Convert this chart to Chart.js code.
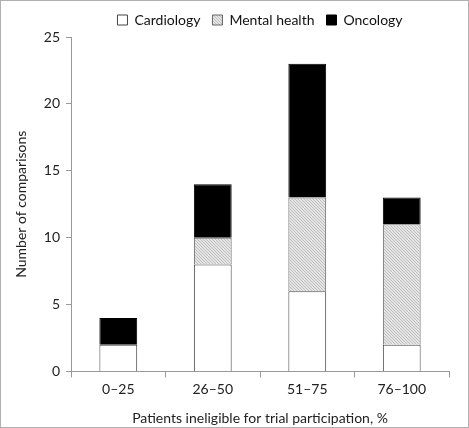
<!DOCTYPE html>
<html>
<head>
<meta charset="utf-8">
<script src="https://cdn.jsdelivr.net/npm/chart.js@4"></script>
<style>
  html, body { margin: 0; padding: 0; background: #fff; }
  #wrap { position: relative; width: 469px; height: 428px; box-sizing: border-box; border: 1px solid #b0b0b0; }
</style>
</head>
<body>
<div id="wrap"><canvas id="chart"></canvas></div>
<script>
// categories and values
const categories = ["0–25", "26–50", "51–75", "76–100"];
const cardiology = [2, 8, 6, 2];
const mentalHealth = [0, 2, 7, 9];
const oncology = [2, 4, 10, 2];
const yTicks = [0, 5, 10, 15, 20, 25];

// fine hatched grey fill for "Mental health"
function makeHatch() {
    const c = document.createElement("canvas");
    c.width = 3; c.height = 3;
    const g = c.getContext("2d");
    g.fillStyle = "#e4e4e4";
    g.fillRect(0, 0, 3, 3);
    g.fillStyle = "#c0c0c0";
    for (let i = 0; i < 3; i++) g.fillRect(i, i, 1, 1);
    return g.createPattern(c, "repeat");
}

const font = { family: "Lato, 'Open Sans', sans-serif", size: 14 };
Chart.defaults.color = "#222";

const ctx = document.getElementById("chart").getContext("2d");
new Chart(ctx, {
    type: "bar",
    data: {
        labels: categories,
        datasets: [
            { label: "Cardiology", data: cardiology, backgroundColor: "#ffffff", borderColor: "#444", borderWidth: 1 },
            { label: "Mental health", data: mentalHealth, backgroundColor: makeHatch(), borderColor: "#666", borderWidth: 1 },
            { label: "Oncology", data: oncology, backgroundColor: "#000000", borderColor: "#000", borderWidth: 1 }
        ]
    },
    options: {
        responsive: true,
        maintainAspectRatio: false,
        animation: false,
        layout: { padding: { top: 0, right: 19, left: 8, bottom: 0 } },
        datasets: { bar: { categoryPercentage: 1, barPercentage: 0.4 } },
        plugins: {
            legend: {
                position: "top",
                fullSize: false,
                labels: {
                    font: font,
                    boxWidth: 10,
                    boxHeight: 10,
                    padding: 12,
                    color: "#111"
                }
            },
            tooltip: { enabled: false }
        },
        scales: {
            x: {
                stacked: true,
                grid: { drawOnChartArea: false, tickLength: 6, color: "#999" },
                border: { color: "#999" },
                ticks: { font: font, padding: 4 },
                title: { display: true, text: "Patients ineligible for trial participation, %", font: font, padding: { top: 8, bottom: 0 } }
            },
            y: {
                stacked: true,
                min: 0,
                max: 25,
                afterBuildTicks: (axis) => { axis.ticks = yTicks.map(v => ({ value: v })); },
                grid: { drawOnChartArea: false, tickLength: 5, color: "#999" },
                border: { color: "#999" },
                ticks: { font: font, padding: 6 },
                title: { display: true, text: "Number of comparisons", font: font, padding: { bottom: 8 } }
            }
        }
    }
});
</script>
</body>
</html>
